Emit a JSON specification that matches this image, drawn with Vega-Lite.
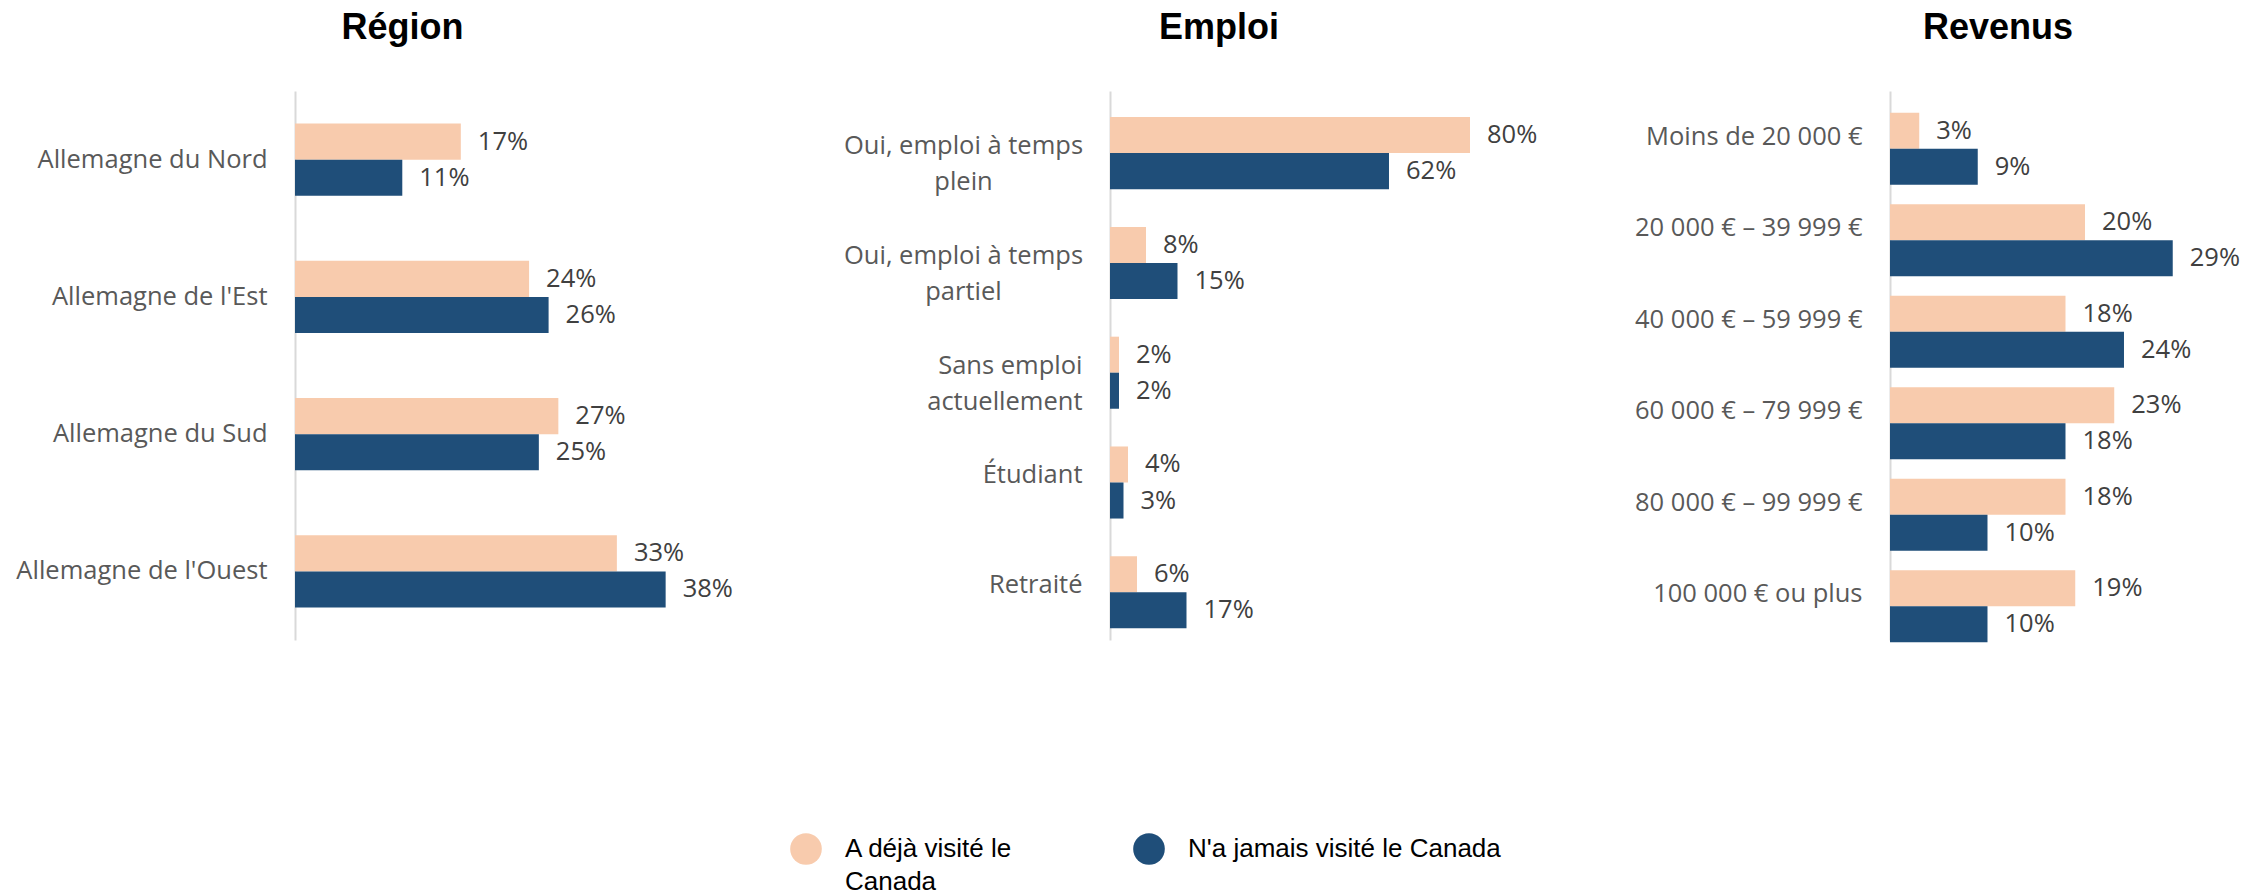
{
  "$schema": "https://vega.github.io/schema/vega-lite/v6.json",
  "background": "white",
  "padding": {"left": 15, "top": 10, "right": 10, "bottom": 0},
  "config": {
    "view": {"stroke": null},
    "font": "Open Sans",
    "style": {"guide-label": {"lineHeight": 33}},
    "axisY": {
      "title": null,
      "domain": true,
      "domainColor": "#D9D9D9",
      "domainWidth": 2,
      "ticks": false,
      "grid": false,
      "labelPadding": 28,
      "labelFont": "Open Sans",
      "labelFontSize": 25.5,
      "labelColor": "#595959",
      "labelLimit": 500,
      "labelLineHeight": 36
    },
    "title": {"font": "Liberation Sans", "fontSize": 36, "fontWeight": "bold", "color": "#000000", "anchor": "middle", "frame": "group", "offset": 44, "baseline": "alphabetic"}
  },
  "datasets": {
    "region": [
      {"categorie": "Allemagne du Nord", "groupe": "A déjà visité le Canada", "valeur": 0.17},
      {"categorie": "Allemagne du Nord", "groupe": "N'a jamais visité le Canada", "valeur": 0.11},
      {"categorie": "Allemagne de l'Est", "groupe": "A déjà visité le Canada", "valeur": 0.24},
      {"categorie": "Allemagne de l'Est", "groupe": "N'a jamais visité le Canada", "valeur": 0.26},
      {"categorie": "Allemagne du Sud", "groupe": "A déjà visité le Canada", "valeur": 0.27},
      {"categorie": "Allemagne du Sud", "groupe": "N'a jamais visité le Canada", "valeur": 0.25},
      {"categorie": "Allemagne de l'Ouest", "groupe": "A déjà visité le Canada", "valeur": 0.33},
      {"categorie": "Allemagne de l'Ouest", "groupe": "N'a jamais visité le Canada", "valeur": 0.38}
    ],
    "emploi": [
      {"categorie": "Oui, emploi à temps plein", "groupe": "A déjà visité le Canada", "valeur": 0.80},
      {"categorie": "Oui, emploi à temps plein", "groupe": "N'a jamais visité le Canada", "valeur": 0.62},
      {"categorie": "Oui, emploi à temps partiel", "groupe": "A déjà visité le Canada", "valeur": 0.08},
      {"categorie": "Oui, emploi à temps partiel", "groupe": "N'a jamais visité le Canada", "valeur": 0.15},
      {"categorie": "Sans emploi actuellement", "groupe": "A déjà visité le Canada", "valeur": 0.02},
      {"categorie": "Sans emploi actuellement", "groupe": "N'a jamais visité le Canada", "valeur": 0.02},
      {"categorie": "Étudiant", "groupe": "A déjà visité le Canada", "valeur": 0.04},
      {"categorie": "Étudiant", "groupe": "N'a jamais visité le Canada", "valeur": 0.03},
      {"categorie": "Retraité", "groupe": "A déjà visité le Canada", "valeur": 0.06},
      {"categorie": "Retraité", "groupe": "N'a jamais visité le Canada", "valeur": 0.17}
    ],
    "revenus": [
      {"categorie": "Moins de 20 000 €", "groupe": "A déjà visité le Canada", "valeur": 0.03},
      {"categorie": "Moins de 20 000 €", "groupe": "N'a jamais visité le Canada", "valeur": 0.09},
      {"categorie": "20 000 € – 39 999 €", "groupe": "A déjà visité le Canada", "valeur": 0.20},
      {"categorie": "20 000 € – 39 999 €", "groupe": "N'a jamais visité le Canada", "valeur": 0.29},
      {"categorie": "40 000 € – 59 999 €", "groupe": "A déjà visité le Canada", "valeur": 0.18},
      {"categorie": "40 000 € – 59 999 €", "groupe": "N'a jamais visité le Canada", "valeur": 0.24},
      {"categorie": "60 000 € – 79 999 €", "groupe": "A déjà visité le Canada", "valeur": 0.23},
      {"categorie": "60 000 € – 79 999 €", "groupe": "N'a jamais visité le Canada", "valeur": 0.18},
      {"categorie": "80 000 € – 99 999 €", "groupe": "A déjà visité le Canada", "valeur": 0.18},
      {"categorie": "80 000 € – 99 999 €", "groupe": "N'a jamais visité le Canada", "valeur": 0.10},
      {"categorie": "100 000 € ou plus", "groupe": "A déjà visité le Canada", "valeur": 0.19},
      {"categorie": "100 000 € ou plus", "groupe": "N'a jamais visité le Canada", "valeur": 0.10}
    ]
  },
  "bounds": "flush",
  "spacing": 300,
  "resolve": {"scale": {"color": "shared"}},
  "hconcat": [
    {
      "width": 515,
      "height": 549,
      "title": {"text": "Région", "dx": -150},
      "data": {"name": "region"},
      "encoding": {
        "y": {"field": "categorie", "type": "nominal", "sort": null, "scale": {"paddingInner": 0.475, "paddingOuter": 0.2375}},
        "x": {"field": "valeur", "type": "quantitative", "scale": {"domain": [0, 0.528], "nice": false}, "axis": null},
        "yOffset": {"field": "groupe", "type": "nominal", "scale": {"paddingInner": 0, "paddingOuter": 0}}
      },
      "layer": [
        {
          "mark": {"type": "bar"},
          "encoding": {
            "color": {"field": "groupe", "type": "nominal", "scale": {"domain": ["A déjà visité le Canada", "N'a jamais visité le Canada"], "range": ["#F8CBAD", "#1F4E79"]},
              "legend": {"title": null, "orient": "none", "direction": "horizontal", "legendX": 495, "legendY": 742, "symbolType": "circle", "symbolSize": 1000, "symbolStrokeWidth": 0, "labelFont": "Liberation Sans", "labelFontSize": 26, "labelColor": "#000000", "labelOffset": 23, "labelLimit": 600, "columnPadding": 120, "labelExpr": "datum.label == 'A déjà visité le Canada' ? ['A déjà visité le', 'Canada'] : [datum.label, '']"}}
          }
        },
        {
          "mark": {"type": "text", "align": "left", "baseline": "middle", "dx": 17, "fontSize": 25.5, "font": "Open Sans", "color": "#404040"},
          "encoding": {"text": {"field": "valeur", "type": "quantitative", "format": ".0%"}}
        }
      ]
    },
    {
      "width": 480,
      "height": 549,
      "title": {"text": "Emploi", "dx": -131},
      "data": {"name": "emploi"},
      "encoding": {
        "y": {"field": "categorie", "type": "nominal", "sort": null, "scale": {"paddingInner": 0.475, "paddingOuter": 0.2375},
          "axis": {
            "labelExpr": "datum.label == 'Oui, emploi à temps plein' ? ['Oui, emploi à temps', 'plein'] : datum.label == 'Oui, emploi à temps partiel' ? ['Oui, emploi à temps', 'partiel'] : datum.label == 'Sans emploi actuellement' ? ['Sans emploi', 'actuellement'] : datum.label",
            "labelAlign": {"condition": {"test": "indexof(datum.value, 'Oui') == 0", "value": "center"}, "value": "right"},
            "labelPadding": {"condition": {"test": "indexof(datum.value, 'Oui') == 0", "value": 147}, "value": 28}
          }},
        "x": {"field": "valeur", "type": "quantitative", "scale": {"domain": [0, 1.0667], "nice": false}, "axis": null},
        "yOffset": {"field": "groupe", "type": "nominal", "scale": {"paddingInner": 0, "paddingOuter": 0}}
      },
      "layer": [
        {
          "mark": {"type": "bar"},
          "encoding": {
            "color": {"field": "groupe", "type": "nominal", "scale": {"domain": ["A déjà visité le Canada", "N'a jamais visité le Canada"], "range": ["#F8CBAD", "#1F4E79"]},
              "legend": {"title": null, "orient": "none", "direction": "horizontal", "legendX": 495, "legendY": 742, "symbolType": "circle", "symbolSize": 1000, "symbolStrokeWidth": 0, "labelFont": "Liberation Sans", "labelFontSize": 26, "labelColor": "#000000", "labelOffset": 23, "labelLimit": 600, "columnPadding": 120, "labelExpr": "datum.label == 'A déjà visité le Canada' ? ['A déjà visité le', 'Canada'] : [datum.label, '']"}}
          }
        },
        {
          "mark": {"type": "text", "align": "left", "baseline": "middle", "dx": 17, "fontSize": 25.5, "font": "Open Sans", "color": "#404040"},
          "encoding": {"text": {"field": "valeur", "type": "quantitative", "format": ".0%"}}
        }
      ]
    },
    {
      "width": 366,
      "height": 549,
      "title": {"text": "Revenus", "dx": -75},
      "data": {"name": "revenus"},
      "encoding": {
        "y": {"field": "categorie", "type": "nominal", "sort": null, "scale": {"paddingInner": 0.475, "paddingOuter": 0.2375}},
        "x": {"field": "valeur", "type": "quantitative", "scale": {"domain": [0, 0.3754], "nice": false}, "axis": null},
        "yOffset": {"field": "groupe", "type": "nominal", "scale": {"paddingInner": 0, "paddingOuter": 0}}
      },
      "layer": [
        {
          "mark": {"type": "bar"},
          "encoding": {
            "color": {"field": "groupe", "type": "nominal", "scale": {"domain": ["A déjà visité le Canada", "N'a jamais visité le Canada"], "range": ["#F8CBAD", "#1F4E79"]},
              "legend": {"title": null, "orient": "none", "direction": "horizontal", "legendX": 495, "legendY": 742, "symbolType": "circle", "symbolSize": 1000, "symbolStrokeWidth": 0, "labelFont": "Liberation Sans", "labelFontSize": 26, "labelColor": "#000000", "labelOffset": 23, "labelLimit": 600, "columnPadding": 120, "labelExpr": "datum.label == 'A déjà visité le Canada' ? ['A déjà visité le', 'Canada'] : [datum.label, '']"}}
          }
        },
        {
          "mark": {"type": "text", "align": "left", "baseline": "middle", "dx": 17, "fontSize": 25.5, "font": "Open Sans", "color": "#404040"},
          "encoding": {"text": {"field": "valeur", "type": "quantitative", "format": ".0%"}}
        }
      ]
    }
  ]
}
